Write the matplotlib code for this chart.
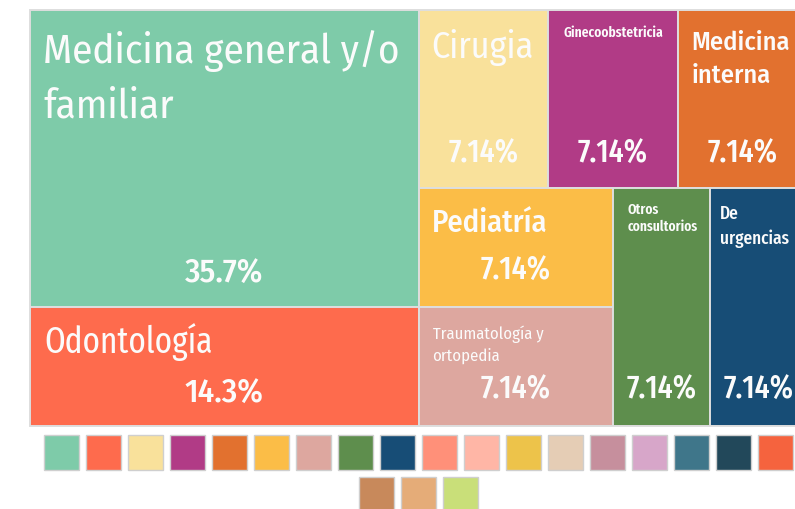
import matplotlib
matplotlib.use("Agg")
import matplotlib.pyplot as plt
from matplotlib.patches import Rectangle

# ---------------- data ----------------
categories = ["Medicina general y/o\nfamiliar", "Odontología", "Cirugia", "Ginecoobstetricia",
              "Medicina\ninterna", "Pediatría", "Traumatología y\nortopedia",
              "Otros\nconsultorios", "De\nurgencias"]
shares = [35.7, 14.3, 7.14, 7.14, 7.14, 7.14, 7.14, 7.14, 7.14]
cell_colors = ["#7ECBA9", "#FE6B4D", "#F9E19B", "#B13B86", "#E2712F",
               "#FBBD47", "#DDA79F", "#5E8E4D", "#174D76"]
legend_colors = ["#7ECBA9", "#FE6B4D", "#F9E19B", "#B13B86", "#E2712F", "#FBBD47",
                 "#DDA79F", "#5E8E4D", "#174D76", "#FF9079", "#FFB6A6", "#EDC34A",
                 "#E5CDB5", "#C68F9D", "#D7A6C9", "#3F768A", "#22485A", "#F5633E",
                 "#C8895B", "#E5AC78", "#C9DF79"]

# ---------------- styles ----------------
C = ["Fira Sans Condensed", "DejaVu Sans"]
XC = ["Fira Sans Extra Condensed", "Fira Sans Condensed", "DejaVu Sans"]
label_fam = [C, XC, C, XC, C, C, C, XC, XC]
label_size = [29.5, 26, 26, 10.5, 19, 22, 12, 10.5, 13.5]
label_base = [52, 45, 47, 26, 39, 43, 31, 25, 30]   # first baseline below cell top (px)
label_lh = [54, 0, 0, 0, 33, 0, 22, 17, 25]          # line height (px)
label_pad = [13, 14, 13, 15, 14, 13, 14, 15, 10]
label_weight = ["normal", "normal", "normal", "semibold", "medium", "medium",
                "normal", "semibold", "medium"]
pct_fam = [C, C] + [XC] * 7
pct_size = [24, 24] + [23.5] * 7
pct_off = [25, 24, 26, 26, 26, 28, 28, 28, 28]

W, H = 795, 510
X0, Y0, TW, TH = 30, 11, 777, 416


def squarify(values, x0, y0, x1, y1, ratio=(1 + 5 ** 0.5) / 2):
    rects = [None] * len(values)
    value = float(sum(values))
    i0, n = 0, len(values)
    while i0 < n:
        dx, dy = x1 - x0, y1 - y0
        s = values[i0]
        mn = mx = s
        alpha = max(dy / dx, dx / dy) / (value * ratio)
        beta = s * s * alpha
        min_ratio = max(mx / beta, beta / mn)
        i1 = i0 + 1
        while i1 < n:
            v = values[i1]
            s += v
            mn, mx = min(mn, v), max(mx, v)
            beta = s * s * alpha
            r = max(mx / beta, beta / mn)
            if r > min_ratio:
                s -= v
                break
            min_ratio = r
            i1 += 1
        if dx < dy:
            yb = y0 + dy * s / value
            x = x0
            for k in range(i0, i1):
                w = dx * values[k] / s
                rects[k] = (x, y0, w, yb - y0)
                x += w
            y0 = yb
        else:
            xb = x0 + dx * s / value
            y = y0
            for k in range(i0, i1):
                h = dy * values[k] / s
                rects[k] = (x0, y, xb - x0, h)
                y += h
            x0 = xb
        value -= s
        i0 = i1
    return rects


fig = plt.figure(figsize=(W / 100, H / 100), dpi=100)
ax = fig.add_axes([0, 0, 1, 1])
ax.set_xlim(0, W)
ax.set_ylim(H, 0)
ax.axis("off")

rects = squarify(shares, X0, Y0, X0 + TW, Y0 + TH)
for i, (x, y, w, h) in enumerate(rects):
    ax.add_patch(Rectangle((x, y), w, h, facecolor=cell_colors[i],
                           edgecolor="#dedede", linewidth=1.4))
    lines = categories[i].split("\n")
    for j, line in enumerate(lines):
        ax.text(x + label_pad[i], y + label_base[i] + j * label_lh[i], line,
                ha="left", va="baseline", color="#fbfbfb", fontsize=label_size[i],
                family=label_fam[i], fontweight=label_weight[i])
    ax.text(x + w / 2, y + h - pct_off[i], f"{shares[i]:.3g}%", ha="center",
            va="baseline", color="#fbfbfb", fontsize=pct_size[i], family=pct_fam[i],
            fontweight="medium")

# legend swatches
SW, PITCH, PER_ROW, CX = 35, 42, 18, 418
rows = [legend_colors[i:i + PER_ROW] for i in range(0, len(legend_colors), PER_ROW)]
for r, row in enumerate(rows):
    start = CX - (len(row) * PITCH - (PITCH - SW)) / 2
    for k, c in enumerate(row):
        ax.add_patch(Rectangle((start + k * PITCH, 436 + r * 42), SW, SW,
                               facecolor=c, edgecolor="#cfcfcf", linewidth=1.0))

fig.savefig("out.png", dpi=100, facecolor="white")
